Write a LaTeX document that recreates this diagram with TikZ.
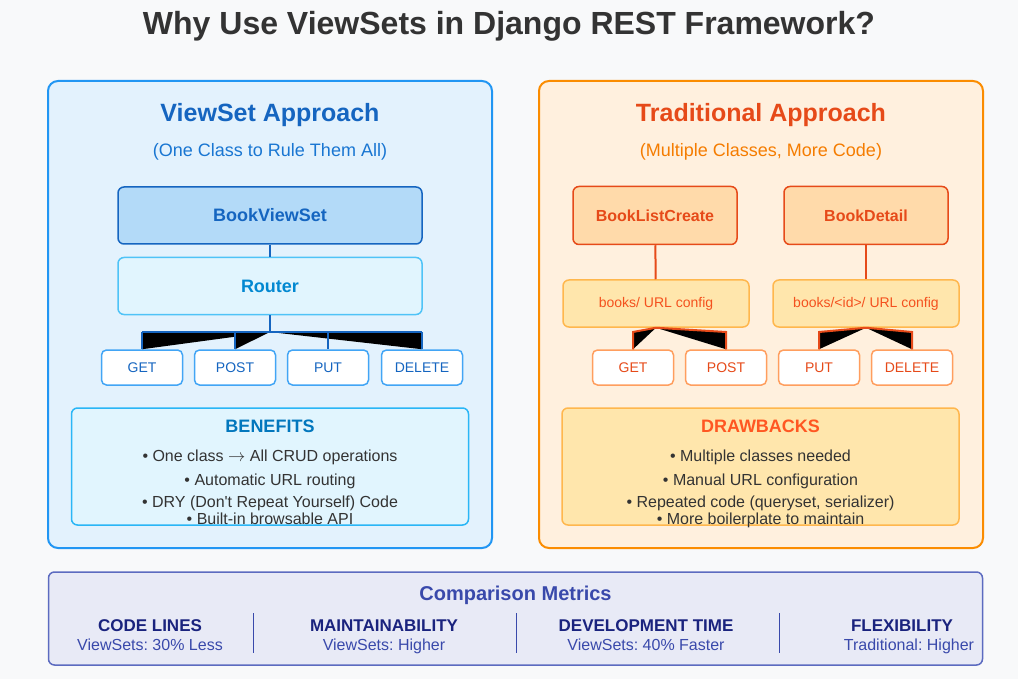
\documentclass[tikz,border=0pt]{standalone}
\usepackage{fontspec}
\setmainfont{Liberation Sans}
\setsansfont{Liberation Sans}
\frenchspacing

\definecolor{pagebg}{HTML}{F8F9FA}
\definecolor{ink}{HTML}{333333}
\definecolor{vsline}{HTML}{2196F3}
\definecolor{vsfill}{HTML}{E3F2FD}
\definecolor{vsdark}{HTML}{1565C0}
\definecolor{vsmid}{HTML}{1976D2}
\definecolor{vsclass}{HTML}{B3DAF8}
\definecolor{rtline}{HTML}{4FC3F7}
\definecolor{rtfill}{HTML}{E1F5FE}
\definecolor{rttext}{HTML}{0288D1}
\definecolor{mline}{HTML}{42A5F5}
\definecolor{bnline}{HTML}{29B6F6}
\definecolor{bntext}{HTML}{0277BD}
\definecolor{trline}{HTML}{FB8C00}
\definecolor{trfill}{HTML}{FFF0DE}
\definecolor{trdark}{HTML}{E64A19}
\definecolor{trmid}{HTML}{F57C00}
\definecolor{trclass}{HTML}{FFDAAA}
\definecolor{cfgline}{HTML}{FFB74D}
\definecolor{cfgfill}{HTML}{FFE6AC}
\definecolor{cfgtext}{HTML}{F4511E}
\definecolor{tmline}{HTML}{FF9E5E}
\definecolor{dbtext}{HTML}{FF5722}
\definecolor{cmfill}{HTML}{E8EAF6}
\definecolor{cmline}{HTML}{5C6BC0}
\definecolor{cmtitle}{HTML}{3949AB}
\definecolor{cmhead}{HTML}{1A237E}

\begin{document}
\begin{tikzpicture}[x=1pt, y=-1pt]
	\tikzstyle{vpanel} = [
		draw=vsline, line width=2pt, fill=vsfill,
		rectangle, rounded corners=10pt, inner sep=0pt,
		minimum width=444pt, minimum height=467pt];
	\tikzstyle{tpanel} = [
		draw=trline, line width=2pt, fill=trfill,
		rectangle, rounded corners=10pt, inner sep=0pt,
		minimum width=444pt, minimum height=467pt];
	\tikzstyle{heading} = [
		anchor=base, font={\fontsize{25}{30}\selectfont\bfseries}];
	\tikzstyle{subheading} = [
		anchor=base, font={\fontsize{18}{22}\selectfont}];

	\tikzstyle{vclass} = [
		draw=vsdark, line width=1.5pt, fill=vsclass, text=vsdark,
		rectangle, rounded corners=6pt, inner sep=0pt,
		minimum width=304pt, minimum height=57pt,
		font={\fontsize{18}{22}\selectfont\bfseries}];
	\tikzstyle{router} = [
		draw=rtline, line width=1.5pt, fill=rtfill, text=rttext,
		rectangle, rounded corners=6pt, inner sep=0pt,
		minimum width=304pt, minimum height=57pt,
		font={\fontsize{18}{22}\selectfont\bfseries}];
	\tikzstyle{vmethod} = [
		draw=mline, line width=1.5pt, fill=white, text=vsdark,
		rectangle, rounded corners=5pt, inner sep=0pt,
		minimum width=81pt, minimum height=35pt,
		font={\fontsize{14}{17}\selectfont}];

	\tikzstyle{tclass} = [
		draw=trdark, line width=1.5pt, fill=trclass, text=trdark,
		rectangle, rounded corners=6pt, inner sep=0pt,
		minimum width=164pt, minimum height=58pt,
		font={\fontsize{16}{19}\selectfont\bfseries}];
	\tikzstyle{urlconf} = [
		draw=cfgline, line width=1.5pt, fill=cfgfill, text=cfgtext,
		rectangle, rounded corners=6pt, inner sep=0pt,
		minimum width=186pt, minimum height=47pt,
		font={\fontsize{14}{17}\selectfont}];
	\tikzstyle{tmethod} = [
		draw=tmline, line width=1.5pt, fill=white, text=trdark,
		rectangle, rounded corners=5pt, inner sep=0pt,
		minimum width=81pt, minimum height=35pt,
		font={\fontsize{14}{17}\selectfont}];

	\tikzstyle{listbox} = [
		line width=1.5pt, rectangle, rounded corners=6pt, inner sep=0pt,
		minimum width=397pt, minimum height=117pt];
	\tikzstyle{listhead} = [
		anchor=base, font={\fontsize{18}{22}\selectfont\bfseries}];
	\tikzstyle{bullet} = [
		anchor=base, text=ink, font={\fontsize{16}{19}\selectfont}];

	\tikzstyle{vlink} = [draw=vsdark, line width=2pt];
	\tikzstyle{tlink} = [draw=trdark, line width=2pt];
	\tikzstyle{wedge} = [fill=black];

	\tikzstyle{metric} = [
		anchor=base, text=cmhead, font={\fontsize{17}{20}\selectfont\bfseries}];
	\tikzstyle{metricval} = [
		anchor=base, text=cmtitle, font={\fontsize{16}{19}\selectfont}];
	\tikzstyle{divider} = [draw=cmtitle, line width=1pt];

	% page
	\fill[pagebg] (0,0) rectangle (1018,679);
	\useasboundingbox (0,0) rectangle (1018,679);
	\node[anchor=base, text=ink, font={\fontsize{32}{38}\selectfont\bfseries}]
		(title) at (509,35) {Why Use ViewSets in Django REST Framework?};

	% viewset side
	\node[vpanel] (vside) at (270,314.5) {};
	\node[heading, text=vsdark] (vhead) at (270,122) {ViewSet Approach};
	\node[subheading, text=vsmid] (vsub) at (270,157) {(One Class to Rule Them All)};

	\node[vclass] (bvs) at (270,215.5) {BookViewSet};
	\node[router] (router) at (270,286) {Router};
	\node[vmethod] (vget) at (142,367.5) {GET};
	\node[vmethod] (vpost) at (235,367.5) {POST};
	\node[vmethod] (vput) at (328,367.5) {PUT};
	\node[vmethod] (vdel) at (422,367.5) {DELETE};
	\coordinate (hub) at (270,332);

	\draw[vlink] (bvs) -- (router);
	\foreach \m in {vget,vpost,vdel}
		\fill[wedge] (hub) -- (hub -| \m.north) -- (\m.north) -- cycle;
	\draw[vlink] (router) -- (hub);
	\draw[vlink] (hub -| vget.north) -- (hub -| vdel.north);
	\foreach \m in {vget,vpost,vput,vdel}
		\draw[vlink] (hub -| \m.north) -- (\m.north);

	\node[listbox, draw=bnline, fill=rtfill] (benefits) at (270,466.5) {};
	\node[listhead, text=bntext] (bhead) at (270,432) {BENEFITS};
	\node[bullet] (b1) at (270,461) {• One class $\rightarrow$ All CRUD operations};
	\node[bullet] (b2) at (270,485) {• Automatic URL routing};
	\node[bullet] (b3) at (270,507) {• DRY (Don\textquotesingle t Repeat Yourself) Code};
	\node[bullet] (b4) at (270,524) {• Built-in browsable API};

	% traditional side
	\node[tpanel] (tside) at (761,314.5) {};
	\node[heading, text=trdark] (thead) at (761,122) {Traditional Approach};
	\node[subheading, text=trmid] (tsub) at (761,157) {(Multiple Classes, More Code)};

	\node[tclass] (blc) at (655,215.5) {BookListCreate};
	\node[tclass] (bdt) at (866,215.5) {BookDetail};
	\node[urlconf] (cfga) at (656,303.5) {books/ URL config};
	\node[urlconf] (cfgb) at (866,303.5) {books/<id>/ URL config};
	\node[tmethod] (tget) at (633,367.5) {GET};
	\node[tmethod] (tpost) at (726,367.5) {POST};
	\node[tmethod] (tput) at (819,367.5) {PUT};
	\node[tmethod] (tdel) at (912,367.5) {DELETE};
	\coordinate (thub) at (0,332);

	\draw[tlink] (blc) -- (cfga);
	\draw[tlink] (bdt) -- (cfgb);
	\foreach \c/\m in {cfga/tget,cfga/tpost,cfgb/tput,cfgb/tdel} {
		\fill[wedge] (\c.south) -- (thub -| \m.north) -- (\m.north) -- cycle;
		\draw[tlink] (\c.south) -- (thub -| \m.north) -- (\m.north);
	}

	\node[listbox, draw=cfgline, fill=cfgfill] (drawbacks) at (760.5,466.5) {};
	\node[listhead, text=dbtext] (dhead) at (760.5,432) {DRAWBACKS};
	\node[bullet] (d1) at (760.5,461) {• Multiple classes needed};
	\node[bullet] (d2) at (760.5,485) {• Manual URL configuration};
	\node[bullet] (d3) at (760.5,507) {• Repeated code (queryset, serializer)};
	\node[bullet] (d4) at (760.5,524) {• More boilerplate to maintain};

	% comparison metrics
	\node[draw=cmline, line width=1.5pt, fill=cmfill, rectangle, rounded corners=6pt,
		inner sep=0pt, minimum width=934pt, minimum height=93pt] (metrics) at (515.5,618.5) {};
	\node[anchor=base, text=cmtitle, font={\fontsize{20}{24}\selectfont\bfseries}]
		(mhead) at (515.5,600) {Comparison Metrics};
	\node[metric] (m1) at (150,631) {CODE LINES};
	\node[metricval] (v1) at (150,650) {ViewSets: 30\% Less};
	\node[metric] (m2) at (384,631) {MAINTAINABILITY};
	\node[metricval] (v2) at (384,650) {ViewSets: Higher};
	\node[metric] (m3) at (646,631) {DEVELOPMENT TIME};
	\node[metricval] (v3) at (646,650) {ViewSets: 40\% Faster};
	\node[metric] (m4) at (902,631) {FLEXIBILITY};
	\node[metricval] (v4) at (909,650) {Traditional: Higher};
	\foreach \x in {253,516,779}
		\draw[divider] (\x,613) -- (\x,653);
\end{tikzpicture}
\end{document}
